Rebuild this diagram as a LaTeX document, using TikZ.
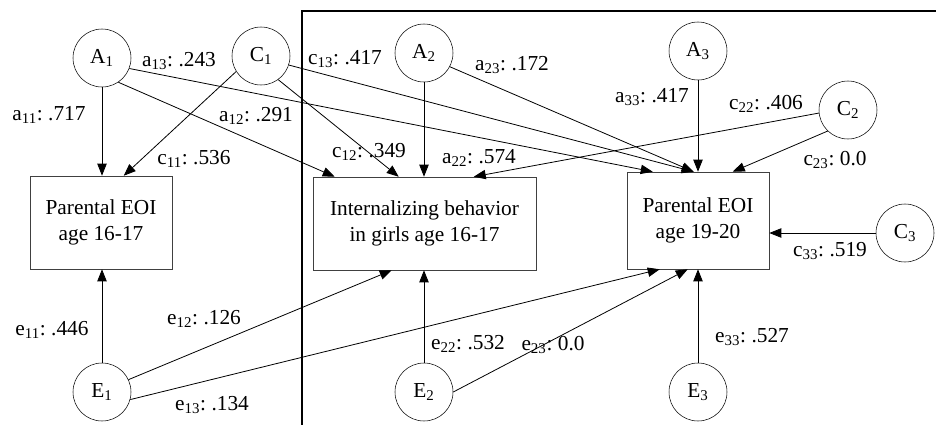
\documentclass[tikz,border=0pt]{standalone}
\usepackage{tikz}
\usepackage{xcolor}
\usepackage{fontspec}
\setmainfont{Liberation Serif}
\usetikzlibrary{arrows.meta,calc}

\begin{document}
\frenchspacing
\begin{tikzpicture}[x=0.75pt,y=0.75pt,yscale=-1,xscale=1,
  every node/.style={font=\fontsize{16}{20}\selectfont},
  latent/.style={draw, circle, minimum size=43.5pt, inner sep=0pt},
  measure/.style={draw=black!75, rectangle, align=center, minimum height=69.75pt, inner sep=2pt},
  path/.style={-{Triangle[length=9pt,width=7pt]}, line width=0.6pt},
  coef/.style={inner sep=0.75pt}]
\useasboundingbox (0,0) rectangle (936,425);

%Shape: Frame
\draw [line width=0.9pt]  (302,425) -- (302,11) -- (936,11) ;

%Shape: Circle
\node [latent] (A1) at (102,58) {A\textsubscript{1}};
\node [latent] (C1) at (261,56) {C\textsubscript{1}};
\node [latent] (A2) at (424,53) {A\textsubscript{2}};
\node [latent] (A3) at (698,51) {A\textsubscript{3}};
\node [latent] (C2) at (848,110) {C\textsubscript{2}};
\node [latent] (C3) at (905,233) {C\textsubscript{3}};
\node [latent] (E1) at (102,392) {E\textsubscript{1}};
\node [latent] (E2) at (424,392) {E\textsubscript{2}};
\node [latent] (E3) at (698,392) {E\textsubscript{3}};

%Shape: Rectangle
\node [measure, minimum width=106.5pt] (P1) at (101,222.5) {Parental EOI\\age 16-17};
\node [measure, minimum width=167.25pt] (IB) at (424.5,223.5) {Internalizing behavior\\in girls age 16-17};
\node [measure, minimum width=106.5pt, minimum height=72.75pt] (P2) at (698,220.5) {Parental EOI\\age 19-20};

%Straight Lines
\draw [path] (A1) -- (A1 |- P1.north) ;
\draw [path] (C1.-148) -- ($(P1.north west)+(94,0)$) ;
\draw [path] (A1.-56) -- ($(IB.north west)+(22,0)$) ;
\draw [path] (C1.-54) -- ($(IB.north west)+(86,0)$) ;
\draw [path] (A2) -- (A2 |- IB.north) ;
\draw [path] (C2.-174) -- ($(IB.north west)+(161,0)$) ;
\draw [path] (A1.-21) -- ($(P2.north west)+(26,0)$) ;
\draw [path] (C1.-18) -- ($(P2.north west)+(67,0)$) ;
\draw [path] (A2.-28) -- ($(P2.north west)+(67,0)$) ;
\draw [path] (A3) -- (A3 |- P2.north) ;
\draw [path] (C2.-134) -- ($(P2.north west)+(106,0)$) ;
\draw [path] (C3) -- (C3 -| P2.east) ;
\draw [path] (E1) -- (E1 |- P1.south) ;
\draw [path] (E1.25) -- ($(IB.south west)+(79,0)$) ;
\draw [path] (E1.-15) -- ($(P2.south west)+(33,0)$) ;
\draw [path] (E2) -- (E2 |- IB.south) ;
\draw [path] (E2.0) -- ($(P2.south west)+(61,0)$) ;
\draw [path] (E3) -- (E3 |- P2.south) ;

% Text Node
\node [coef] (la11) at (49,115) {a\textsubscript{11}: .717};
\node [coef] (la13) at (179,61) {a\textsubscript{13}: .243};
\node [coef] (la12) at (256,116) {a\textsubscript{12}: .291};
\node [coef] (lc11) at (194,159) {c\textsubscript{11}: .536};
\node [coef] (lc13) at (345,59) {c\textsubscript{13}: .417};
\node [coef] (la23) at (512,65) {a\textsubscript{23}: .172};
\node [coef] (lc12) at (369,152) {c\textsubscript{12}: .349};
\node [coef] (la22) at (479,158) {a\textsubscript{22}: .574};
\node [coef] (la33) at (652,97) {a\textsubscript{33}: .417};
\node [coef] (lc22) at (766,104) {c\textsubscript{22}: .406};
\node [coef] (lc23) at (835,160) {c\textsubscript{23}: 0.0};
\node [coef] (lc33) at (830,251) {c\textsubscript{33}: .519};
\node [coef] (le11) at (52,330) {e\textsubscript{11}: .446};
\node [coef] (le12) at (204,319) {e\textsubscript{12}: .126};
\node [coef] (le13) at (212,405) {e\textsubscript{13}: .134};
\node [coef] (le22) at (468,344) {e\textsubscript{22}: .532};
\node [coef] (le23) at (553,345) {e\textsubscript{23}: 0.0};
\node [coef] (le33) at (752,337) {e\textsubscript{33}: .527};

\end{tikzpicture}
\end{document}
